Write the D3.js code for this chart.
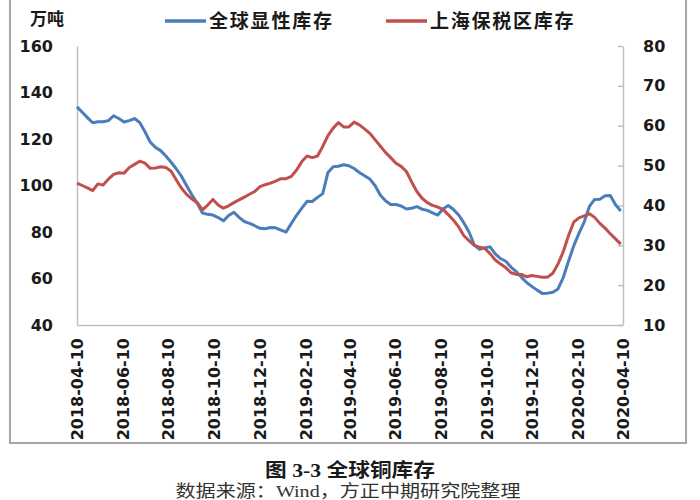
<!DOCTYPE html>
<html><head><meta charset="utf-8">
<script src="https://cdn.jsdelivr.net/npm/d3@7/dist/d3.min.js"></script>
<style>body{margin:0;background:#fff}</style>
</head><body>
<svg id="c" width="700" height="500"></svg>
<script>
// ---- data ----
const startDate = "2018-04-10";   // first weekly observation
const endDate = "2020-04-10";
const tickLabels = ["2018-04-10","2018-06-10","2018-08-10","2018-10-10","2018-12-10","2019-02-10",
  "2019-04-10","2019-06-10","2019-08-10","2019-10-10","2019-12-10","2020-02-10","2020-04-10"];
const seriesNames = ["全球显性库存", "上海保税区库存"];
const leftTicks = [40, 60, 80, 100, 120, 140, 160];
const rightTicks = [10, 20, 30, 40, 50, 60, 70, 80];
// weekly values, 万吨
const globalStock = [133.8,131.5,129.2,127.0,127.4,127.4,127.9,130.0,128.8,127.3,
  127.9,128.8,127.1,123.1,118.7,116.4,115.0,112.7,110.0,107.1,
  103.9,99.8,95.9,92.3,88.2,87.6,87.3,86.2,84.8,87.1,
  88.5,86.3,84.5,83.7,82.7,81.6,81.4,81.9,81.8,80.8,
  80.0,83.7,87.2,90.3,93.2,93.1,94.9,96.5,105.6,108.1,
  108.3,108.9,108.5,107.3,105.6,104.2,102.8,100.0,95.9,93.4,
  91.8,91.8,91.2,89.9,90.2,90.9,89.8,89.3,88.2,87.3,
  89.9,91.4,89.7,87.3,83.9,79.9,74.4,72.5,73.2,73.6,
  70.6,68.6,67.4,64.9,63.0,60.5,58.3,56.6,55.0,53.6,
  53.7,54.1,55.5,60.4,67.4,74.0,79.4,84.3,91.0,94.0,
  94.1,95.6,95.7,91.7,89.0];
const bondedStock = [45.6,45.0,44.4,43.7,45.4,45.1,46.6,47.8,48.2,48.1,
  49.5,50.3,51.1,50.6,49.3,49.4,49.7,49.5,48.6,46.4,
  44.3,42.7,41.6,40.7,38.9,40.1,41.5,40.1,39.3,39.9,
  40.7,41.4,42.1,42.8,43.5,44.7,45.2,45.6,46.1,46.7,
  46.7,47.3,48.9,51.0,52.4,52.0,52.4,54.8,57.5,59.4,
  60.8,59.7,59.7,60.9,60.2,59.2,58.1,56.5,54.9,53.3,
  52.0,50.6,49.8,48.5,45.9,43.5,41.8,40.7,40.0,39.6,
  39.0,37.7,36.3,34.6,32.4,31.1,30.0,29.5,29.2,27.9,
  26.3,25.3,24.4,23.1,22.7,22.7,22.1,22.4,22.2,22.0,
  22.0,23.0,25.3,28.4,32.4,35.8,36.9,37.4,37.9,37.0,
  35.5,34.3,32.9,31.6,30.3];

// ---- chart ----
const svg = d3.select("#c");
const parse = d3.timeParse("%Y-%m-%d");
const t0 = parse(startDate);
const dates = globalStock.map((_, i) => d3.timeDay.offset(t0, 7 * i));

const L = 77, R = 623, T = 46, B = 325;
const x = d3.scaleTime().domain([parse(startDate), parse(endDate)]).range([L, R]);
const yL = d3.scaleLinear().domain([40, 160]).range([B, T]);
const yR = d3.scaleLinear().domain([10, 80]).range([B, T]);

const blue = "#4a7ebb", red = "#c0504d";
const axisColor = "#bfbfbf";
const tickFont = "DejaVu Sans, sans-serif";
const cjk = "'Noto Sans CJK SC', sans-serif";

// frame
const frame = svg.append("g").attr("stroke", "#a6a6a6").attr("stroke-width", 2).attr("fill", "none");
frame.append("path").attr("d", "M10,0 L10,443 L686,443 L686,0");

// left axis
const gL = svg.append("g").attr("transform", `translate(${L},0)`)
  .call(d3.axisLeft(yL).tickValues(leftTicks).tickSize(0).tickPadding(24));
gL.select(".domain").attr("stroke", axisColor).attr("stroke-width", 1.5);
gL.selectAll("text").attr("font-family", tickFont).attr("font-weight", "bold")
  .attr("font-size", 16).attr("fill", "#1a1a1a");

// right axis
const gR = svg.append("g").attr("transform", `translate(${R},0)`)
  .call(d3.axisRight(yR).tickValues(rightTicks).tickSizeInner(-5).tickSizeOuter(0).tickPadding(20));
gR.select(".domain").attr("stroke", axisColor).attr("stroke-width", 1.5);
gR.selectAll("line").attr("stroke", axisColor).attr("stroke-width", 1.5);
gR.selectAll("text").attr("font-family", tickFont).attr("font-weight", "bold")
  .attr("font-size", 16).attr("fill", "#1a1a1a");

// bottom axis
const gB = svg.append("g").attr("transform", `translate(0,${B})`)
  .call(d3.axisBottom(x).tickValues(tickLabels.map(parse)).tickSize(0).tickFormat(d3.timeFormat("%Y-%m-%d")));
gB.select(".domain").attr("stroke", axisColor).attr("stroke-width", 1.5);
gB.selectAll("text")
  .attr("font-family", tickFont).attr("font-weight", "bold").attr("font-size", 16).attr("fill", "#1a1a1a")
  .attr("text-anchor", "end").attr("y", 0).attr("dy", "0.36em")
  .attr("transform", "translate(0,13) rotate(-90)").attr("x", 0);

// lines
const lineL = d3.line().x((d, i) => x(dates[i])).y(d => yL(d));
const lineR = d3.line().x((d, i) => x(dates[i])).y(d => yR(d));
svg.append("path").datum(globalStock).attr("d", lineL)
  .attr("fill", "none").attr("stroke", blue).attr("stroke-width", 3).attr("stroke-linejoin", "round");
svg.append("path").datum(bondedStock).attr("d", lineR)
  .attr("fill", "none").attr("stroke", red).attr("stroke-width", 3).attr("stroke-linejoin", "round");

// unit
svg.append("text").attr("x", 30).attr("y", 25).text("万吨")
  .attr("font-family", cjk).attr("font-weight", "bold").attr("font-size", 17).attr("fill", "#1a1a1a");

// legend
const legend = [{x: 165, name: seriesNames[0], color: blue}, {x: 386, name: seriesNames[1], color: red}];
legend.forEach(l => {
  svg.append("line").attr("x1", l.x).attr("x2", l.x + 41).attr("y1", 21).attr("y2", 21)
    .attr("stroke", l.color).attr("stroke-width", 3.5);
  svg.append("text").attr("x", l.x + 44).attr("y", 28).text(l.name)
    .attr("font-family", cjk).attr("font-weight", "bold").attr("font-size", 19)
    .attr("fill", "#1a1a1a").attr("textLength", l.name.length * 20.5);
});

// captions
svg.append("text").attr("x", 350).attr("y", 477).attr("text-anchor", "middle")
  .attr("font-family", "'Liberation Serif', 'Noto Sans CJK SC', serif").attr("font-weight", "bold")
  .attr("font-size", 19).attr("fill", "#1a1a1a")
  .attr("textLength", 170).attr("lengthAdjust", "spacingAndGlyphs")
  .text("图 3-3  全球铜库存");
svg.append("text").attr("x", 348).attr("y", 497).attr("text-anchor", "middle")
  .attr("font-family", "'Liberation Serif', 'Noto Sans CJK SC', serif")
  .attr("font-size", 17).attr("fill", "#333")
  .attr("textLength", 345).attr("lengthAdjust", "spacingAndGlyphs")
  .text("数据来源：Wind，方正中期研究院整理");
</script>
</body></html>
